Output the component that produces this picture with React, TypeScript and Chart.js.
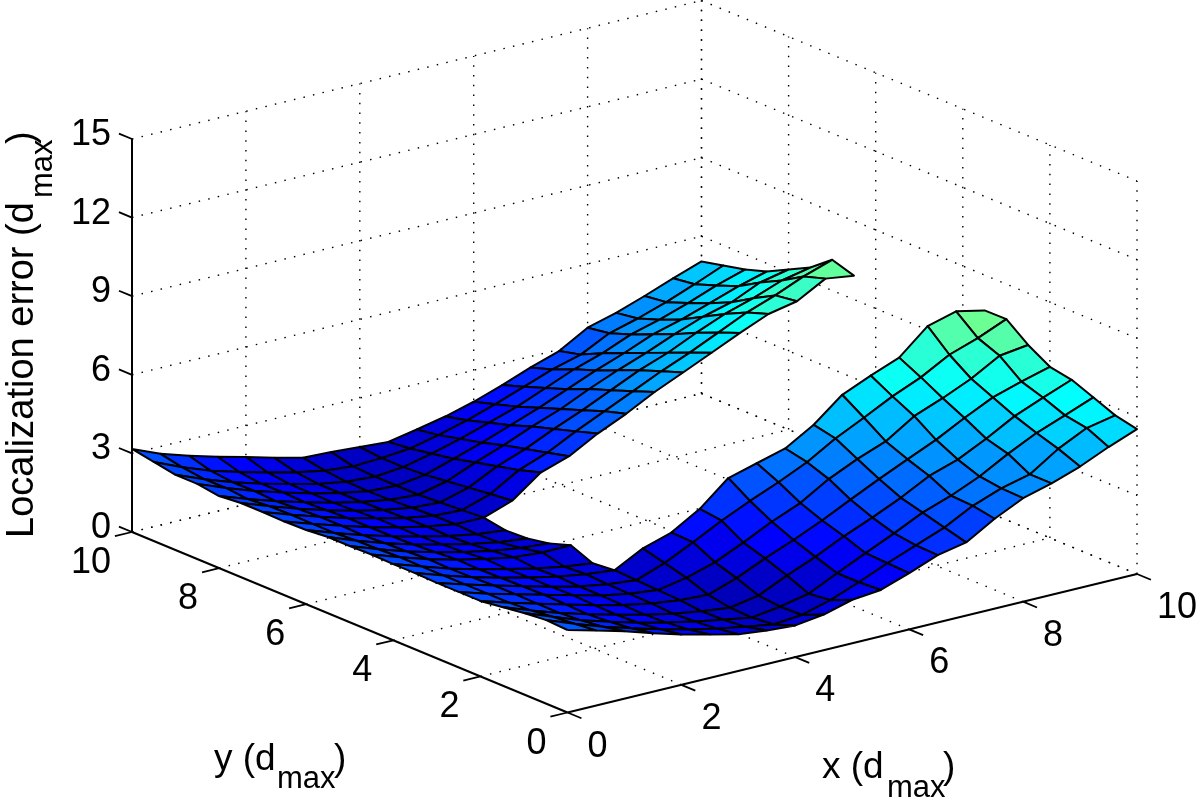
import React, { useEffect, useRef } from "react";
import { Chart, registerables } from "chart.js";

Chart.register(...registerables);

const xTicks = [0, 2, 4, 6, 8, 10];
const yTicks = [0, 2, 4, 6, 8, 10];
const zTicks = [0, 3, 6, 9, 12, 15];
const N = null;

// Localization error at x = 0, 0.5 ... 10, one list per y = 0, 0.5 ... 10
const zY00 = [3.15,2.87,2.57,2.23,1.92,1.66,1.40,1.28,1.21,1.36,1.66,1.77,2.15,2.57,2.79,3.43,3.95,4.25,4.63,5.11,5.53];
const zY01 = [3.19,2.78,2.40,2.08,1.78,1.50,1.27,1.08,0.90,1.00,1.30,1.72,2.18,2.60,3.01,3.58,3.98,4.25,4.96,5.49,5.71];
const zY02 = [3.11,2.70,2.30,1.98,1.68,1.42,1.20,1.00,0.82,0.97,1.20,1.72,2.22,2.71,3.24,3.62,4.09,4.69,5.22,5.63,6.05];
const zY03 = [2.99,2.60,2.24,1.92,1.64,1.38,1.15,0.98,0.85,1.05,1.55,2.00,2.52,2.97,3.46,4.03,4.39,4.92,5.52,5.96,6.38];
const zY04 = [2.88,2.55,2.24,1.95,1.66,1.40,1.20,1.06,1.00,1.37,1.86,2.30,2.78,3.31,3.83,4.32,4.80,5.37,5.89,6.23,6.53];
const zY05 = [2.88,2.55,2.26,1.98,1.70,1.42,1.22,1.10,1.30,1.63,2.12,2.65,3.10,3.75,4.25,4.66,5.36,5.78,6.26,6.87,7.02];
const zY06 = [2.88,2.55,2.25,1.96,1.68,1.42,1.24,1.13,1.52,2.05,2.61,3.10,3.55,4.05,4.69,5.22,5.77,6.23,6.83,7.20,7.66];
const zY07 = [2.91,2.55,2.22,1.94,1.68,1.45,1.28,1.17,1.74,2.08,2.72,3.63,3.93,4.23,4.87,5.75,6.22,6.64,7.58,7.88,7.65];
const zY08 = [2.91,2.55,2.20,1.92,1.66,1.42,1.22,1.09,N,N,N,N,N,N,N,N,N,N,N,N,N];
const zY09 = [2.93,2.56,2.22,1.94,1.70,1.50,1.42,1.43,N,N,N,N,N,N,N,N,N,N,N,N,N];
const zY10 = [2.91,2.52,2.17,1.88,1.62,1.40,1.25,1.16,N,N,N,N,N,N,N,N,N,N,N,N,N];
const zY11 = [2.91,2.50,2.14,1.83,1.57,1.32,1.12,1.00,N,N,N,N,N,N,N,N,N,N,N,N,N];
const zY12 = [2.83,2.45,2.10,1.80,1.53,1.28,1.08,0.97,N,N,N,N,N,N,N,N,N,N,N,N,N];
const zY13 = [2.81,2.45,2.12,1.80,1.53,1.30,1.12,1.11,1.49,2.30,2.66,3.26,3.75,4.32,4.80,5.29,5.78,6.24,6.46,7.06,6.91];
const zY14 = [2.83,2.46,2.12,1.80,1.53,1.28,1.10,1.05,1.40,2.05,2.45,3.00,3.50,4.00,4.50,4.95,5.45,5.95,6.34,6.80,7.17];
const zY15 = [2.83,2.44,2.08,1.76,1.48,1.24,1.06,1.00,1.30,1.85,2.25,2.75,3.20,3.70,4.20,4.60,5.10,5.55,5.89,6.30,6.53];
const zY16 = [2.75,2.37,2.02,1.72,1.44,1.20,1.02,0.95,1.20,1.65,2.05,2.50,2.90,3.40,3.85,4.25,4.70,5.10,5.39,5.88,6.11];
const zY17 = [2.87,2.45,2.07,1.75,1.45,1.20,1.00,0.95,1.10,1.45,1.80,2.20,2.60,3.05,3.50,3.90,4.35,4.65,5.01,5.39,5.69];
const zY18 = [2.87,2.44,2.06,1.74,1.46,1.20,1.02,0.95,1.05,1.30,1.60,1.95,2.30,2.75,3.20,3.55,4.00,4.30,4.67,5.08,5.42];
const zY19 = [3.02,2.55,2.15,1.84,1.56,1.30,1.10,1.00,1.05,1.15,1.40,1.70,2.05,2.45,2.85,3.15,3.70,4.00,4.36,4.78,5.23];
const zY20 = [3.17,2.72,2.38,2.08,1.81,1.51,1.25,1.20,1.13,1.06,1.27,1.50,1.80,2.17,2.58,2.94,3.57,3.87,4.25,4.66,5.04];
const zRows = [zY00,zY01,zY02,zY03,zY04,zY05,zY06,zY07,zY08,zY09,zY10,zY11,zY12,zY13,zY14,zY15,zY16,zY17,zY18,zY19,zY20];

// Fixed oblique view of the box (x, y, z) on the page
const project = (x: number, y: number, z: number) => ({
  x: 567.5 + 56.95 * x - 43.55 * y,
  y: 712.5 - 13.85 * x - 18.05 * y - 26.2 * z,
});

// MATLAB jet colormap, limits 0..15
const jet = (z: number) => {
  const t = Math.min(1, Math.max(0, z / 15));
  const c = (v: number) => Math.round(255 * Math.min(1, Math.max(0, v)));
  const r = c(Math.min(4 * t - 1.5, -4 * t + 4.5));
  const g = c(Math.min(4 * t - 0.5, -4 * t + 3.5));
  const b = c(Math.min(4 * t + 0.5, -4 * t + 2.5));
  return `rgb(${r},${g},${b})`;
};

const segment = (pts: number[][], dotted: boolean, width = 1.8) => ({
  data: pts.map(([x, y, z]) => project(x, y, z)),
  showLine: true,
  fill: false,
  pointRadius: 0,
  borderColor: "#000",
  borderWidth: dotted ? 1.4 : width,
  borderDash: dotted ? [1.5, 8.3] : [],
  clip: false,
});

const buildCells = () => {
  const cells: any[] = [];
  const step = 0.5;
  for (let sum = 0; sum <= 38; sum++) {
    for (let j = 0; j < 20; j++) {
      const i = sum - j;
      if (i < 0 || i >= 20) continue;
      const a = zRows[j][i], b = zRows[j][i + 1], c = zRows[j + 1][i + 1], d = zRows[j + 1][i];
      if (a === null || b === null || c === null || d === null) continue;
      const x0 = i * step, x1 = (i + 1) * step, y0 = j * step, y1 = (j + 1) * step;
      cells.push({
        data: [project(x0, y0, a), project(x1, y0, b), project(x1, y1, c), project(x0, y1, d), project(x0, y0, a)],
        showLine: true,
        fill: "shape",
        backgroundColor: jet(a),
        borderColor: "#000",
        borderWidth: 2,
        borderJoinStyle: "round",
        pointRadius: 0,
        clip: false,
      });
    }
  }
  return cells;
};

const buildFrame = () => {
  const out: any[] = [];
  const top = zTicks[zTicks.length - 1];
  for (const t of xTicks) {
    if (t > 0) out.push(segment([[t, 0, 0], [t, 10, 0]], true));
    if (t > 0) out.push(segment([[t, 10, 0], [t, 10, top]], true));
    out.push(segment([[t, 0, 0], [t, -0.32, 0]], false));
  }
  for (const t of yTicks) {
    if (t > 0) out.push(segment([[0, t, 0], [10, t, 0]], true));
    out.push(segment([[10, t, 0], [10, t, top]], true));
    out.push(segment([[0, t, 0], [-0.3, t, 0]], false));
  }
  for (const t of zTicks) {
    out.push(segment([[0, 10, t], [10, 10, t]], true));
    out.push(segment([[10, 10, t], [10, 0, t]], true));
    out.push(segment([[0, 10, t], [0, 10.3, t]], false));
  }
  out.push(segment([[0, 0, 0], [10, 0, 0]], false, 2));
  out.push(segment([[0, 0, 0], [0, 10, 0]], false, 2));
  out.push(segment([[0, 10, 0], [0, 10, top]], false, 2));
  return out;
};

const textPlugin = {
  id: "boxText",
  afterDraw(chart: any) {
    const { ctx, scales } = chart;
    const at = (x: number, y: number, z: number) => {
      const p = project(x, y, z);
      return { x: scales.x.getPixelForValue(p.x), y: scales.y.getPixelForValue(p.y) };
    };
    const tickFont = "36px 'Liberation Sans'";
    const mainFont = "37px 'Liberation Sans'";
    const subFont = "31px 'Liberation Sans'";
    ctx.save();
    ctx.fillStyle = "#000";
    ctx.font = tickFont;
    ctx.textBaseline = "alphabetic";
    const digitDrop = 13;
    ctx.textAlign = "right";
    for (const t of zTicks) {
      const p = at(0, 10, t);
      ctx.fillText(String(t), p.x - 21, p.y - 7 + digitDrop);
    }
    for (const t of yTicks) {
      const p = at(0, t, 0);
      ctx.fillText(String(t), p.x - 21, p.y + 28 + digitDrop);
    }
    ctx.textAlign = "left";
    for (const t of xTicks) {
      const p = at(t, 0, 0);
      ctx.fillText(String(t), p.x + 20, p.y + 31 + digitDrop);
    }
    // y axis title
    ctx.font = mainFont;
    ctx.fillText("y (d", 214, 770);
    ctx.fillText(")", 334, 770);
    ctx.font = subFont;
    ctx.fillText("max", 277, 788);
    // x axis title
    ctx.font = mainFont;
    ctx.fillText("x (d", 822, 778);
    ctx.fillText(")", 943, 778);
    ctx.font = subFont;
    ctx.fillText("max", 887, 797);
    // z axis title
    ctx.translate(33, 538);
    ctx.rotate(-Math.PI / 2);
    ctx.font = "38px 'Liberation Sans'";
    ctx.fillText("Localization error (d", 0, 0);
    ctx.fillText(")", 394, 0);
    ctx.font = subFont;
    ctx.fillText("max", 340, 19);
    ctx.restore();
  },
};

export default function App() {
  const ref = useRef<HTMLCanvasElement>(null);
  useEffect(() => {
    document.body.style.margin = "0";
    document.body.style.background = "#fff";
    const chart = new Chart(ref.current as HTMLCanvasElement, {
      type: "scatter",
      // first dataset is painted last: near cells first, frame at the end
      data: { datasets: [...buildCells(), ...buildFrame().reverse()] },
      options: {
        animation: false,
        responsive: false,
        events: [],
        layout: { padding: 0 },
        plugins: { legend: { display: false }, tooltip: { enabled: false }, title: { display: false } },
        scales: {
          x: { type: "linear", min: 0, max: 1200, display: false },
          y: { type: "linear", min: 0, max: 805, reverse: true, display: false },
        },
      },
      plugins: [textPlugin],
    } as any);
    return () => chart.destroy();
  }, []);
  return <canvas ref={ref} width={1200} height={805} style={{ display: "block" }} />;
}
